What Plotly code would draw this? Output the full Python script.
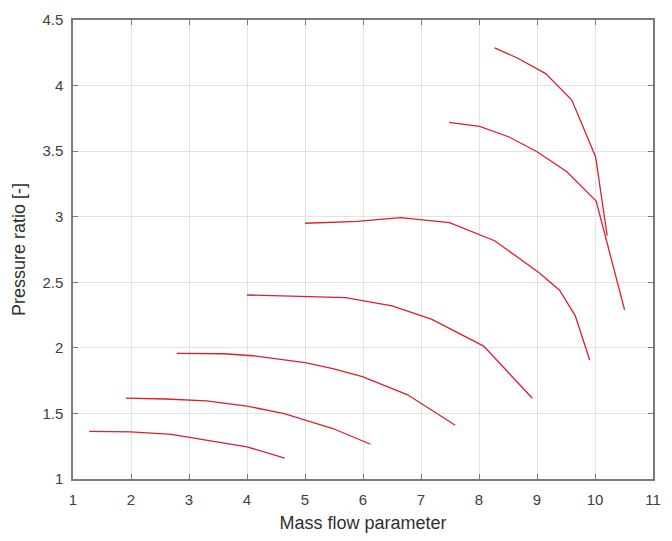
import plotly.graph_objects as go

# Compressor map: speed lines of pressure ratio vs. mass flow parameter
line1_x = [1.28, 2.0, 2.7, 3.0, 3.45, 4.0, 4.65]
line1_y = [1.363, 1.36, 1.34, 1.32, 1.285, 1.245, 1.16]

line2_x = [1.91, 2.6, 3.3, 4.0, 4.64, 5.0, 5.48, 6.13]
line2_y = [1.616, 1.61, 1.595, 1.556, 1.498, 1.45, 1.385, 1.265]

line3_x = [2.79, 3.6, 4.1, 5.0, 5.48, 5.99, 6.77, 7.59]
line3_y = [1.958, 1.955, 1.94, 1.888, 1.842, 1.78, 1.642, 1.41]

line4_x = [4.0, 5.0, 5.7, 6.5, 7.18, 8.08, 8.92]
line4_y = [2.403, 2.39, 2.383, 2.32, 2.219, 2.013, 1.616]

line5_x = [5.0, 5.9, 6.65, 7.49, 8.27, 9.02, 9.39, 9.66, 9.91]
line5_y = [2.95, 2.965, 2.993, 2.955, 2.817, 2.578, 2.44, 2.244, 1.905]

line6_x = [7.485, 8.01, 8.52, 9.0, 9.51, 10.02, 10.51]
line6_y = [3.72, 3.689, 3.608, 3.495, 3.345, 3.119, 2.29]

line7_x = [8.27, 8.66, 9.15, 9.60, 10.01, 10.21]
line7_y = [4.287, 4.21, 4.091, 3.89, 3.458, 2.855]

speed_lines = [
    (line1_x, line1_y), (line2_x, line2_y), (line3_x, line3_y),
    (line4_x, line4_y), (line5_x, line5_y), (line6_x, line6_y),
    (line7_x, line7_y),
]

x_ticks = list(range(1, 12))
y_ticks = [1, 1.5, 2, 2.5, 3, 3.5, 4, 4.5]
y_tick_text = ["1", "1.5", "2", "2.5", "3", "3.5", "4", "4.5"]

fig = go.Figure()
for xs, ys in speed_lines:
    fig.add_trace(go.Scatter(
        x=xs, y=ys, mode="lines",
        line=dict(color="#dc1f2a", width=1.3),
        showlegend=False, hoverinfo="x+y",
    ))

axis_common = dict(
    showline=True, linecolor="#7a7a7a", linewidth=1.5, mirror="ticks",
    ticks="inside", ticklen=5, tickcolor="#7a7a7a", tickwidth=1,
    showgrid=True, gridcolor="#e3e3e3", gridwidth=1, zeroline=False,
    tickfont=dict(family="Liberation Sans, Arial, sans-serif", size=15, color="#404040"),
    title_font=dict(family="Liberation Sans, Arial, sans-serif", size=18, color="#303030"),
)

fig.update_xaxes(
    range=[1, 11], tickvals=x_ticks, ticktext=[str(v) for v in x_ticks],
    ticklabelstandoff=6,
    title_text="Mass flow parameter", title_standoff=10, **axis_common,
)
fig.update_yaxes(
    range=[1, 4.5], tickvals=y_ticks, ticktext=y_tick_text,
    ticklabelstandoff=5,
    title_text="Pressure ratio [-]", title_standoff=12, **axis_common,
)

fig.update_layout(
    width=672, height=541,
    margin=dict(l=73, r=11, t=15, b=62),
    paper_bgcolor="white", plot_bgcolor="white",
)

fig.write_html("out.html")
